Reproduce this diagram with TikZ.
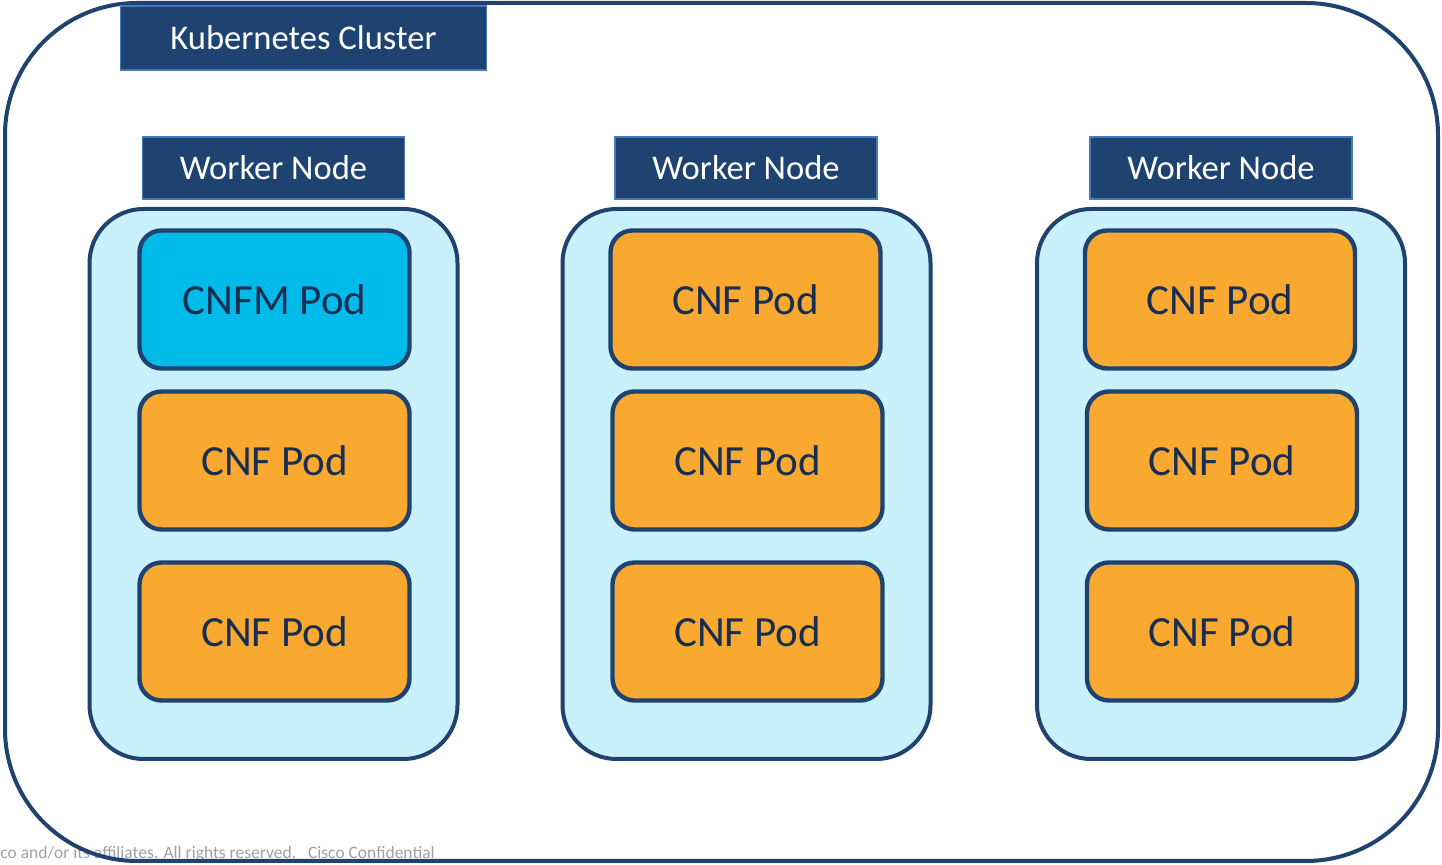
\documentclass[tikz,border=0pt]{standalone}
\usepackage{fontspec}
\setmainfont{Carlito}
\usetikzlibrary{positioning}
\definecolor{navy}{HTML}{1F426F}
\definecolor{podtext}{HTML}{172D52}
\definecolor{labelfill}{HTML}{1F4371}
\definecolor{labeledge}{HTML}{4A78C0}
\definecolor{workerfill}{HTML}{C8F1FC}
\definecolor{cnfmfill}{HTML}{00BBEA}
\definecolor{cnffill}{HTML}{F9A92F}
\definecolor{footgray}{HTML}{A0A0A0}
\tikzset{
    tag/.style = {draw = labeledge, line width = 0.8pt, fill = labelfill, text = white,
        font = \fontsize{17.3}{20}\selectfont, inner sep = 0pt},
    worker/.style = {draw = navy, line width = 2pt, fill = workerfill, rounded corners = 27pt,
        minimum width = 184pt, minimum height = 275pt, inner sep = 0pt},
    pod/.style = {draw = navy, line width = 2.2pt, rounded corners = 11pt, text = podtext,
        minimum width = 135pt, minimum height = 69pt, inner sep = 0pt,
        font = \fontsize{21.5}{26}\selectfont},
    cnf/.style = {pod, fill = cnffill},
    cnfm/.style = {pod, fill = cnfmfill}
}
\begin{document}
\begin{tikzpicture}[x = 0.5pt, y = -0.5pt]
    \useasboundingbox (0, 0) rectangle (1442, 865);
    % footer, partly hidden by the cluster frame
    \node [anchor = base west, inner sep = 0pt, text = footgray, font = \fontsize{8.75}{10}\selectfont]
        (footer) at (0, 859) {co and/or its affiliates. All rights reserved.\ \ \ Cisco Confidential};
    % cluster frame
    \draw [navy, line width = 2pt, rounded corners = 66pt] (5, 3) rectangle (1438, 861);
    \node [tag, minimum width = 183pt, minimum height = 32pt] (cluster) at (303.5, 38) {Kubernetes Cluster};
    % worker nodes
    \node [worker] (wn1) at (273.5, 484) {};
    \node [worker] (wn2) at (746.5, 484) {};
    \node [worker] (wn3) at (1221, 484) {};
    \node [tag, minimum width = 131pt, minimum height = 31pt] (lab1) at (273.5, 168) {Worker Node};
    \node [tag, minimum width = 131pt, minimum height = 31pt] (lab2) at (746, 168) {Worker Node};
    \node [tag, minimum width = 131pt, minimum height = 31pt] (lab3) at (1221, 168) {Worker Node};
    % pods
    \node [cnfm] (pod11) at (274.5, 299.5) {CNFM Pod};
    \node [cnf] (pod12) at (274.5, 460.5) {CNF Pod};
    \node [cnf] (pod13) at (274.5, 631.5) {CNF Pod};
    \node [cnf] (pod21) at (745.5, 299.5) {CNF Pod};
    \node [cnf] (pod22) at (747.5, 460.5) {CNF Pod};
    \node [cnf] (pod23) at (747.5, 631.5) {CNF Pod};
    \node [cnf] (pod31) at (1220, 299.5) {CNF Pod};
    \node [cnf] (pod32) at (1222, 460.5) {CNF Pod};
    \node [cnf] (pod33) at (1222, 631.5) {CNF Pod};
\end{tikzpicture}
\end{document}
